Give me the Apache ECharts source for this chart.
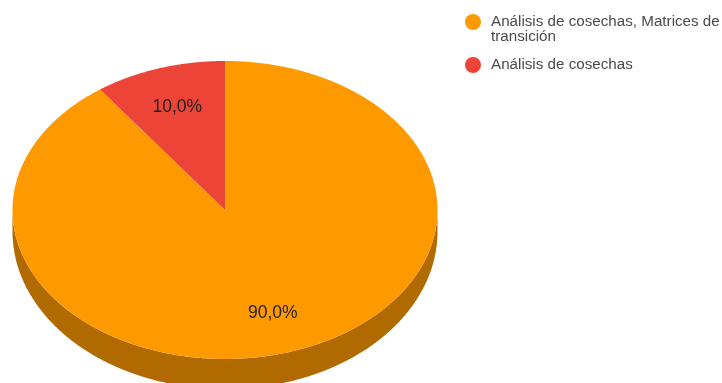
<!DOCTYPE html>
<html>
<head>
<meta charset="utf-8">
<style>html,body{margin:0;padding:0;background:#fff}#chart{width:722px;height:383px}</style>
<script src="https://cdn.jsdelivr.net/npm/echarts@6/dist/echarts.min.js"></script>
</head>
<body>
<div id="chart"></div>
<script>
// Slice names and shares, in clockwise order from twelve o'clock
const sliceNames = ['Análisis de cosechas, Matrices de\ntransición', 'Análisis de cosechas'];
const sliceValues = [90, 10];
const sliceLabels = ['90,0%', '10,0%'];
const sliceColors = ['#ff9900', '#ec4436'];
const sideColors = ['#b06a00', '#a52f26'];

// Tilted disc geometry: the lower rim sits on a slightly taller ellipse
const disc = { cx: 225, cy: 210, rx: 212.5, ry: 149, lowerCy: 231.5, lowerRy: 157.5, labelRadius: 0.727 };

const total = sliceValues.reduce((a, b) => a + b, 0);
const spans = [];
sliceValues.reduce((acc, v) => {
  spans.push([acc / total * 2 * Math.PI, (acc + v) / total * 2 * Math.PI]);
  return acc + v;
}, 0);

// Point on an ellipse around the disc axis; t runs clockwise from the top
function rim(t, cy, ry) {
  return [disc.cx + disc.rx * Math.sin(t), cy - ry * Math.cos(t)];
}

function arcPoints(from, to, cy, ry) {
  const n = Math.max(2, Math.ceil((to - from) / 0.005));
  const pts = [];
  for (let i = 0; i <= n; i++) pts.push(rim(from + (to - from) * i / n, cy, ry));
  return pts;
}

function renderSlice(index) {
  return function () {
    const [a, b] = spans[index];
    const children = [];
    // Front wall: the part of the slice's rim on the near half of the disc
    const from = Math.max(a, Math.PI / 2);
    const to = Math.min(b, Math.PI * 1.5);
    if (to > from) {
      children.push({
        type: 'polygon',
        z2: 1,
        shape: {
          points: arcPoints(from, to, disc.cy, disc.ry)
            .concat(arcPoints(from, to, disc.lowerCy, disc.lowerRy).reverse())
        },
        style: { fill: sideColors[index] }
      });
    }
    // Top face
    children.push({
      type: 'polygon',
      z2: 2,
      shape: { points: [[disc.cx, disc.cy]].concat(arcPoints(a, b, disc.cy, disc.ry)) },
      style: { fill: sliceColors[index] }
    });
    // Percentage label at the slice's mid angle
    const mid = (a + b) / 2;
    children.push({
      type: 'text',
      z2: 3,
      x: disc.cx + disc.rx * disc.labelRadius * Math.sin(mid),
      y: disc.cy - disc.ry * disc.labelRadius * Math.cos(mid),
      style: {
        text: sliceLabels[index],
        align: 'center',
        verticalAlign: 'middle',
        fill: '#222222',
        font: '17.5px "Liberation Sans", Arial, sans-serif'
      }
    });
    return { type: 'group', children };
  };
}

const chart = echarts.init(document.getElementById('chart'), null, { renderer: 'canvas' });
chart.setOption({
  animation: false,
  backgroundColor: '#ffffff',
  legend: {
    orient: 'vertical',
    left: 465,
    top: -0.5,
    itemWidth: 26,
    itemHeight: 16,
    itemGap: 12.5,
    selectedMode: false,
    padding: 0,
    icon: 'circle',
    // A leading blank line keeps the marker level with the first text line of a wrapped entry
    formatter: (name) => (name.indexOf('\n') >= 0 ? '\u00a0\n' + name : name),
    textStyle: {
      color: '#4a4a4a',
      fontSize: 15.2,
      lineHeight: 15,
      fontFamily: '"Liberation Sans", Arial, sans-serif'
    },
    data: sliceNames
  },
  series: sliceNames.map((name, i) => ({
    type: 'custom',
    name,
    coordinateSystem: 'none',
    itemStyle: { color: sliceColors[i] },
    data: [sliceValues[i]],
    renderItem: renderSlice(i)
  }))
});
</script>
</body>
</html>
